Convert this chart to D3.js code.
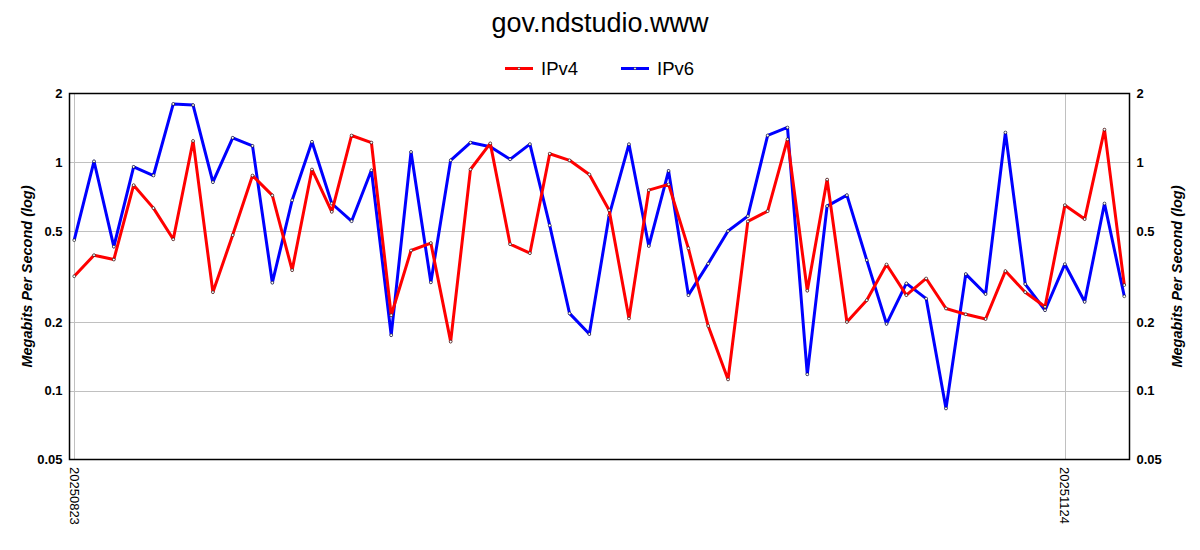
<!DOCTYPE html>
<html>
<head>
<meta charset="utf-8">
<script src="https://cdn.jsdelivr.net/npm/d3@7"></script>
<style>
  body { margin: 0; background: #fff; }
  text { font-family: "Liberation Sans", Arial, sans-serif; }
</style>
</head>
<body>
<div id="chart"></div>
<script>
// samples in order, one per measurement
const ipv4 = [0.317, 0.392, 0.375, 0.794, 0.63, 0.46, 1.24, 0.27, 0.48, 0.875,
  0.716, 0.337, 0.93, 0.607, 1.31, 1.22, 0.214, 0.411, 0.443, 0.164,
  0.93, 1.21, 0.438, 0.40, 1.09, 1.02, 0.884, 0.617, 0.207, 0.755,
  0.80, 0.42, 0.192, 0.112, 0.551, 0.611, 1.26, 0.274, 0.84, 0.20,
  0.249, 0.357, 0.262, 0.31, 0.229, 0.216, 0.206, 0.334, 0.27, 0.233,
  0.649, 0.564, 1.39, 0.29];
const ipv6 = [0.456, 1.01, 0.427, 0.955, 0.875, 1.80, 1.78, 0.818, 1.28, 1.18,
  0.297, 0.682, 1.23, 0.66, 0.552, 0.923, 0.175, 1.11, 0.298, 1.02,
  1.22, 1.17, 1.03, 1.20, 0.529, 0.218, 0.177, 0.586, 1.20, 0.43,
  0.917, 0.262, 0.36, 0.50, 0.581, 1.31, 1.42, 0.118, 0.643, 0.718,
  0.373, 0.196, 0.295, 0.253, 0.0836, 0.324, 0.265, 1.35, 0.293, 0.225,
  0.358, 0.245, 0.66, 0.259];
const xTickIndex = [0, 50];
const xTickLabels = ["20250823", "20251124"];
const yTicks = [0.05, 0.1, 0.2, 0.5, 1, 2];
const seriesNames = ["IPv4", "IPv6"];
const seriesColors = ["#ff0000", "#0000ff"];

const W = 1200, H = 550;
const plotL = 69.5, plotR = 1129.5, plotT = 93.5, plotB = 459.5;

const svg = d3.select("#chart").append("svg")
  .attr("width", W).attr("height", H);

const x = d3.scaleLinear().domain([0, ipv4.length - 1]).range([74.2, 1124.3]);
const y = d3.scaleLog().domain([0.05, 2]).range([plotB, plotT]);

// grid
svg.append("g").selectAll("line").data(yTicks.slice(1, -1)).enter().append("line")
  .attr("x1", plotL).attr("x2", plotR)
  .attr("y1", d => Math.round(y(d)) + 0.5).attr("y2", d => Math.round(y(d)) + 0.5)
  .attr("stroke", "#c0c0c0").attr("stroke-width", 1);
svg.append("g").selectAll("line").data(xTickIndex).enter().append("line")
  .attr("x1", d => Math.round(x(d)) + 0.5).attr("x2", d => Math.round(x(d)) + 0.5)
  .attr("y1", plotT).attr("y2", plotB)
  .attr("stroke", "#c0c0c0").attr("stroke-width", 1);

// y axes labels (no tick marks)
const yLeft = d3.axisLeft(y).tickValues(yTicks).tickFormat(d3.format("")).tickSize(0).tickPadding(7);
const yRight = d3.axisRight(y).tickValues(yTicks).tickFormat(d3.format("")).tickSize(0).tickPadding(7);
const gl = svg.append("g").attr("transform", "translate(" + plotL + ",0)").call(yLeft);
const gr = svg.append("g").attr("transform", "translate(" + plotR + ",0)").call(yRight);
[gl, gr].forEach(g => {
  g.select(".domain").remove();
  g.selectAll("text").attr("font-size", 13).attr("font-weight", "bold")
    .attr("fill", "#000").attr("font-family", "'Liberation Sans', Arial, sans-serif");
});

// x tick labels, rotated
svg.append("g").selectAll("text").data(xTickIndex).enter().append("text")
  .attr("transform", d => "translate(" + (x(d) - 4.5) + ",467) rotate(90)")
  .attr("font-size", 13).attr("fill", "#000")
  .text((d, i) => xTickLabels[i]);

// axis titles
[27, 1177].forEach(px => {
  svg.append("text")
    .attr("transform", "translate(" + (px + 5) + "," + ((plotT + plotB) / 2) + ") rotate(-90)")
    .attr("text-anchor", "middle")
    .attr("font-size", 14.5).attr("font-weight", "bold").attr("font-style", "italic")
    .text("Megabits Per Second (log)");
});

// lines, IPv6 below IPv4
const line = d3.line().x((d, i) => x(i)).y(d => y(d));
const data = [ipv4, ipv6];
[1, 0].forEach(k => {
  svg.append("path").datum(data[k])
    .attr("d", line)
    .attr("fill", "none")
    .attr("stroke", seriesColors[k])
    .attr("stroke-width", 3)
    .attr("stroke-linejoin", "round");
  svg.append("g").selectAll("circle").data(data[k]).enter().append("circle")
    .attr("cx", (d, i) => x(i)).attr("cy", d => y(d))
    .attr("r", 1.4).attr("fill", "#fff").attr("stroke", "#000").attr("stroke-width", 0.6);
});

// frame
svg.append("rect")
  .attr("x", plotL).attr("y", plotT)
  .attr("width", plotR - plotL).attr("height", plotB - plotT)
  .attr("fill", "none").attr("stroke", "#000").attr("stroke-width", 1.5);

// title
svg.append("text")
  .attr("x", 600).attr("y", 32).attr("text-anchor", "middle")
  .attr("font-size", 27).attr("fill", "#000")
  .text("gov.ndstudio.www");

// legend
const lx = [505, 621];
seriesNames.forEach((name, i) => {
  svg.append("line")
    .attr("x1", lx[i]).attr("x2", lx[i] + 28)
    .attr("y1", 68.5).attr("y2", 68.5)
    .attr("stroke", seriesColors[i]).attr("stroke-width", 3);
  svg.append("circle")
    .attr("cx", lx[i] + 14).attr("cy", 68.5).attr("r", 1.2)
    .attr("fill", "#fff").attr("stroke", "#000").attr("stroke-width", 0.5);
  svg.append("text")
    .attr("x", lx[i] + 36).attr("y", 75)
    .attr("font-size", 18.5).attr("fill", "#000")
    .text(name);
});
</script>
</body>
</html>
